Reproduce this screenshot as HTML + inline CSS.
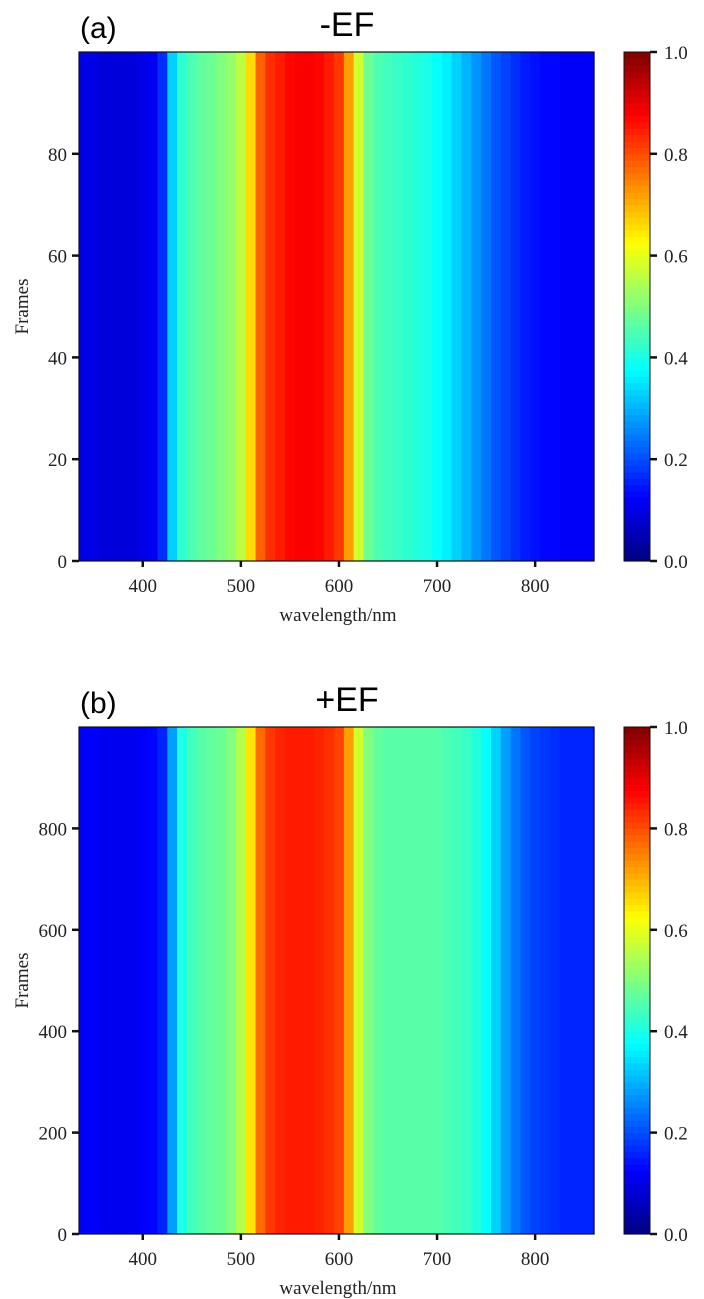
<!DOCTYPE html>
<html><head><meta charset="utf-8"><style>
body{margin:0;background:#fff;width:704px;height:1299px;overflow:hidden}
svg{display:block}
.t{font-family:"Liberation Serif",serif;font-size:19px;fill:#222}
.s{font-family:"Liberation Sans",sans-serif;fill:#000}
</style></head><body>
<svg id="fig" width="704" height="1299"></svg>
<script>
// wavelength bin centres (nm)
const wavelengths=[340,350,360,370,380,390,400,410,420,430,440,450,460,470,480,490,500,510,520,530,540,550,560,570,580,590,600,610,620,630,640,650,660,670,680,690,700,710,720,730,740,750,760,770,780,790,800,810,820,830,840,850,860];
// panel a normalized intensity
const intensityA=[0.1,0.1,0.09,0.09,0.09,0.09,0.1,0.11,0.17,0.33,0.42,0.45,0.47,0.48,0.5,0.52,0.56,0.66,0.78,0.83,0.85,0.87,0.88,0.88,0.87,0.85,0.82,0.72,0.58,0.48,0.45,0.44,0.43,0.42,0.41,0.4,0.38,0.36,0.33,0.3,0.27,0.24,0.21,0.19,0.17,0.15,0.14,0.13,0.13,0.12,0.12,0.12,0.12];
// panel b normalized intensity
const intensityB=[0.12,0.12,0.11,0.11,0.11,0.11,0.12,0.13,0.16,0.28,0.4,0.44,0.46,0.47,0.48,0.5,0.55,0.65,0.77,0.82,0.84,0.85,0.85,0.85,0.84,0.83,0.81,0.72,0.58,0.5,0.47,0.46,0.46,0.46,0.46,0.46,0.46,0.45,0.44,0.43,0.41,0.38,0.33,0.28,0.24,0.21,0.19,0.18,0.17,0.16,0.16,0.16,0.16];
const xTicks=[400,500,600,700,800];
const yTicksA=[0,20,40,60,80];
const yTicksB=[0,200,400,600,800];
const cbTicks=[0,0.2,0.4,0.6,0.8,1.0];

const NS='http://www.w3.org/2000/svg';
const svg=document.getElementById('fig');
function mk(tag,at,parent){const e=document.createElementNS(NS,tag);for(const k in at)e.setAttribute(k,at[k]);(parent||svg).appendChild(e);return e;}
function jet(v){v=Math.max(0,Math.min(1,v));
 const r=Math.max(0,Math.min(1,1.5-Math.abs(4*v-3)));
 const g=Math.max(0,Math.min(1,1.5-Math.abs(4*v-2)));
 const b=Math.max(0,Math.min(1,1.5-Math.abs(4*v-1)));
 return `rgb(${Math.round(r*255)},${Math.round(g*255)},${Math.round(b*255)})`;}
const X0=79,X1=594,W0=335,W1=860;
const xs=w=>X0+(w-W0)/(W1-W0)*(X1-X0);

function panel(p){
 const g=mk('g',{});
 
 
 const ys=f=>p.bot-f/p.ymax*(p.bot-p.top);
 const hm=mk('g',{},g);
 
 
 p.vals.forEach((v,i)=>{
  const a=Math.max(X0,xs(wavelengths[i]-5)),b=Math.min(X1,xs(wavelengths[i]+5));
  const r=mk('rect',{x:a,y:p.top,width:b-a+0.6,height:p.bot-p.top,fill:jet(v)},hm);
  
  
 });
 const fr=mk('rect',{x:X0,y:p.top,width:X1-X0,height:p.bot-p.top,fill:'none',stroke:'#111','stroke-width':1.2},g);
 
 
 xTicks.forEach(t=>{const x=xs(t);
  mk('line',{x1:x,x2:x,y1:p.bot,y2:p.bot+6,stroke:'#111','stroke-width':2.5},g);
  const tx=mk('text',{x:x,y:p.bot+31,'text-anchor':'middle',class:'t'},g);tx.textContent=t;
  
  });
 p.yt.forEach(t=>{const y=ys(t);
  mk('line',{x1:X0-7,x2:X0,y1:y,y2:y,stroke:'#111','stroke-width':2.5},g);
  const tx=mk('text',{x:X0-12,y:y+7,'text-anchor':'end',class:'t'},g);tx.textContent=t;
  
  });
 const xl=mk('text',{x:338,y:p.bot+60,'text-anchor':'middle',class:'t'},g);xl.textContent='wavelength/nm';
 
 
 const cy=(p.top+p.bot)/2;
 const yl=mk('text',{x:28,y:cy,'text-anchor':'middle',class:'t',transform:`rotate(-90 28 ${cy})`},g);yl.textContent='Frames';
 
 
 const lb=mk('text',{x:80,y:p.top-14,class:'s','font-size':30},g);lb.textContent=p.label;
 
 
 const tl=mk('text',{x:347,y:p.top-16,'text-anchor':'middle',class:'s','font-size':34},g);tl.textContent=p.title;
 
 
 // colorbar
 const cb=mk('g',{},g);
 
 
 const n=80,h=(p.bot-p.top)/n;
 for(let i=0;i<n;i++){mk('rect',{x:624,y:p.bot-(i+1)*h,width:26,height:h+0.6,fill:jet((i+0.5)/n)},cb);}
 mk('rect',{x:624,y:p.top,width:26,height:p.bot-p.top,fill:'none',stroke:'#111'},cb);
 cbTicks.forEach(t=>{const y=p.bot-t*(p.bot-p.top);
  mk('line',{x1:650,x2:657,y1:y,y2:y,stroke:'#111','stroke-width':2.5},cb);
  const tx=mk('text',{x:664,y:y+7,class:'t'},cb);tx.textContent=t.toFixed(1);
  
  });
}
panel({name:'panel-a',label:'(a)',title:'-EF',vals:intensityA,top:52,bot:561,ymax:100,yt:yTicksA});
panel({name:'panel-b',label:'(b)',title:'+EF',vals:intensityB,top:727,bot:1234,ymax:1000,yt:yTicksB});
</script>
</body></html>
